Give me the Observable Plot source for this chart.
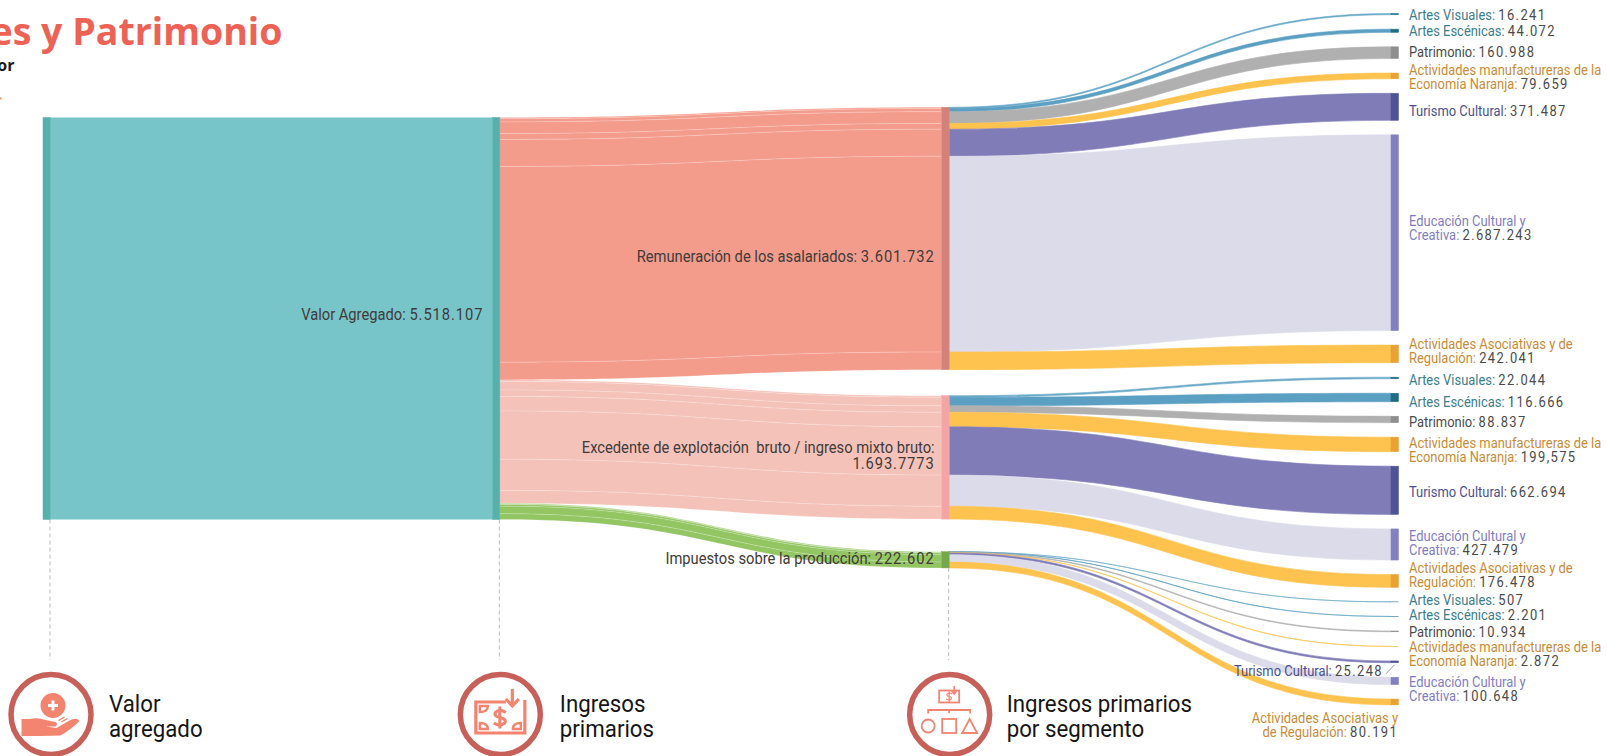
<!DOCTYPE html>
<html>
<head>
<meta charset="utf-8">
<script src="https://cdn.jsdelivr.net/npm/d3@7"></script>
<script src="https://cdn.jsdelivr.net/npm/@observablehq/plot@0.6"></script>
<style>
html,body{margin:0;padding:0;background:#fff;overflow:hidden}
svg text{white-space:pre}
</style>
</head>
<body>
<div id="chart"></div>
<script>
// ---------- data ----------
const stages = ["Valor\nagregado", "Ingresos\nprimarios", "Ingresos primarios\npor segmento"];
const totalLabel = "Valor Agregado: 5.518.107";
const incomeNames = ["Remuneración de los asalariados: 3.601.732",
  "Excedente de explotación  bruto / ingreso mixto bruto:\n1.693.7773",
  "Impuestos sobre la producción: 222.602"];
const segmentKeys = ["av", "ae", "pat", "man", "tur", "edu", "aso"];
const remuneracion = [16241, 44072, 160988, 79659, 371487, 2687243, 242041];
const excedente = [22044, 116666, 88837, 199575, 662694, 427479, 176478];
const impuestos = [507, 2201, 10934, 2872, 25248, 100648, 80191];
const segmentLabels = {
  av: "Artes Visuales",
  ae: "Artes Escénicas",
  pat: "Patrimonio",
  man: "Actividades manufactureras de la\nEconomía Naranja",
  tur: "Turismo Cultural",
  edu: "Educación Cultural y\nCreativa",
  aso: "Actividades Asociativas y de\nRegulación"
};
const asociativasLeftward = "Actividades Asociativas y\nde Regulación";
const remuneracionText = ["16.241", "44.072", "160.988", "79.659", "371.487", "2.687.243", "242.041"];
const excedenteText = ["22.044", "116.666", "88.837", "199,575", "662.694", "427.479", "176.478"];
const impuestosText = ["507", "2.201", "10.934", "2.872", "25.248", "100.648", "80.191"];

// ---------- styles ----------
const flowColor = {av:"#6aa9c8", ae:"#5b9fc3", pat:"#b0b0b0", man:"#fec24f", tur:"#807cb8", edu:"#dbdbea", aso:"#fec24f"};
const nodeColor = {av:"#1f6d84", ae:"#1f6d84", pat:"#8e8e8e", man:"#e9a233", tur:"#4e5297", edu:"#8280c0", aso:"#e9a233"};
const labelColor = {av:"#3a7d8c", ae:"#3a7d8c", pat:"#4a4a4a", man:"#c98b36", tur:"#4c5090", edu:"#7f7dc0", aso:"#c98b36"};
const incomeFlow = ["#f49c8c", "#f5c2b9", "#93c663"];
const incomeNode = ["#d2827a", "#f3a5a5", "#74a84e"];
const TEAL = "#78c5c9", TEAL_DARK = "#55b0ae", INK = "#403b39";
const RING = "#c8605a", ICON = "#f28470";
const FONT = "Roboto, sans-serif";

// ---------- layout (flow units: one pixel of height = U) ----------
const U = 13727;
const px = p => p * U;
const NODE_W = 7.5 / 449.33;            // node width in stage units
const stageOf = p => (p - 43) / 449.33; // pixel to stage units
const incomeRows = [remuneracion, excedente, impuestos];
const incomeTexts = [remuneracionText, excedenteText, impuestosText];
const incomeTotals = incomeRows.map(r => d3.sum(r));
const total = d3.sum(incomeTotals);
const topLeft = px(117.5);
const midTops = [px(107.3), px(395.7), px(551.7)];
const segTop = px(13.5), segGap = px(14.47);
const labelNudge = [1.2,.5,-1,1.1,3.9,-4.7,-2.6, 2.3,4.2,2.85,5.4,1.7,-1,-6.2, -1.9,-1.15,.3,8.1,9,7.7,23];

const flows = [], nodes = [], segLabels = [];
// valor agregado block
flows.push(
  {id:"va", x:NODE_W, y1:topLeft, y2:topLeft+total, fill:TEAL},
  {id:"va", x:1, y1:topLeft, y2:topLeft+total, fill:TEAL});
nodes.push({x1:0,x2:NODE_W,y1:topLeft,y2:topLeft+total,fill:TEAL_DARK},
           {x1:1,x2:1+NODE_W,y1:topLeft,y2:topLeft+total,fill:TEAL_DARK});

let left = topLeft, right = segTop, count = 0;
incomeRows.forEach((row, i) => {
  let mid = midTops[i];
  nodes.push({x1:2,x2:2+NODE_W,y1:mid,y2:mid+incomeTotals[i],fill:incomeNode[i]});
  row.forEach((v, j) => {
    const k = segmentKeys[j];
    const id1 = `a${i}${j}`, id2 = `b${i}${j}`;
    const end = i === 2 && (k === "tur" || k === "aso");
    const name = end && k === "aso" ? asociativasLeftward : segmentLabels[k];
    flows.push(
      {id:id1, x:1+NODE_W, y1:left, y2:left+v, fill:incomeFlow[i]},
      {id:id1, x:2, y1:mid, y2:mid+v, fill:incomeFlow[i]},
      {id:id2, x:2+NODE_W, y1:mid, y2:mid+v, fill:flowColor[k]},
      {id:id2, x:3, y1:right, y2:right+v, fill:flowColor[k]});
    nodes.push({x1:3,x2:3+NODE_W,y1:right,y2:right+v,fill:nodeColor[k]});
    segLabels.push({k, text:`${name}: ${incomeTexts[i][j]}`,
      y:right+v/2+px(labelNudge[count]), end});
    left += v; mid += v; right += v + segGap; count++;
  });
});
const secondStage = flows.filter(d => d.id[0] === "a");
const thirdStage = flows.filter(d => d.id[0] === "b");
const blockStage = flows.filter(d => d.id === "va");

const nodeLabels = [
  {x:1-9.5/449.33, y:px(314), text:totalLabel},
  {x:2-7.5/449.33, y:px(255.7), text:incomeNames[0]},
  {x:2-7.5/449.33, y:px(455), text:incomeNames[1]},
  {x:2-7.5/449.33, y:px(558.5), text:incomeNames[2]}
];
const stageMarks = [0,1,2].map(s => ({s:s+NODE_W, from:px(s===2?568:519.5), to:px(660), label:stages[s]}));
const iconRow = px(714), captionRow = px(716);
const captionDx = [58, 59.5, 57];

// ---------- icons: glyph shapes drawn at the stage position given by the x scale ----------
function icons(index, scales) {
  const g = d3.create("svg:g");
  const art = [
`<circle cx="2.5" cy="-8.5" r="12.5" fill="${ICON}"/>
 <path d="M2.5 -13.5V-3.5M-2.5 -8.5H7.5" stroke="#fff" stroke-width="3" fill="none"/>
 <path d="M-29 5H-21Q-12 3 -5 6L5 8Q8 10 5 12.5L-5 12.5L6 14L19 6.5Q26 3 29 7Q20 16 10 21.5L-10 22L-29 22Z" fill="${ICON}"/>
 <path d="M8 6.5L14 3M11 8L17 4.5" stroke="${ICON}" stroke-width="1.4" fill="none"/>`,
`<g fill="none" stroke="${ICON}" stroke-width="3.2">
 <path d="M6 -12H-24V19H25V-14"/>
 <path d="M-20 -8H-12Q-12 -2 -20 -2ZM-20 15H-12Q-12 9 -20 9ZM21 15H13Q13 9 21 9Z" stroke-width="2.4"/>
 <path d="M12.5 -25V-8M6 -15L12.5 -8L19 -15"/>
 <path d="M6 -1Q1 -5 -4 -1.5Q-7 2.5 0 4Q7 5.5 5 9.5Q0 13.5 -6 9.5M0 -7V15" transform="translate(0,-0.5)" stroke-width="3"/>
 </g>`,
`<g fill="none" stroke="${ICON}" stroke-width="1.8">
 <rect x="-10" y="-23.5" width="20" height="12"/>
 <path d="M3 -20Q0 -22 -2 -20Q-3 -18 0 -17.5Q3 -17 2 -15Q0 -13 -3 -15M0 -23V-12" stroke-width="1.2"/>
 <path d="M5 -28V-20M2.5 -23L5 -20L7.5 -23" stroke-width="1.5"/>
 <path d="M-21 -.5V-4H21V-.5M0 -4V-1"/>
 <circle cx="-21" cy="12" r="6.5"/>
 <rect x="-7" y="5" width="14" height="14"/>
 <path d="M20.5 5L28 19H13Z"/>
 </g>`];
  stageMarks.forEach((d, i) => {
    g.append("g")
      .attr("transform", `translate(${scales.x(d.s)},${scales.y(iconRow)})`)
      .html(art[i]);
  });
  return g.node();
}

// ---------- chart ----------
const tag = name => () => name;
const chart = Plot.plot({
  width: 1607, height: 756, margin: 0,
  style: {fontFamily: FONT, background: "#fff"},
  x: {axis: null, domain: [0, 3], range: [43, 1391]},
  y: {axis: null, domain: [0, px(756)], range: [0, 756]},
  color: {type: "identity"},
  marks: [
    Plot.ruleX(stageMarks, {x:"s", y1:"from", y2:"to", dx:-1, stroke:"#bdbdbd", strokeWidth:1, strokeDasharray:"4,3"}),
    Plot.area(blockStage, {x1:"x", y1:"y1", y2:"y2", z:"id", fill:"fill"}),
    Plot.area(secondStage, {x1:"x", y1:"y1", y2:"y2", z:"id", fill:"fill", curve:"bump-x",
      stroke:"#fff", strokeOpacity:.22, strokeWidth:.7}),
    Plot.area(thirdStage, {x1:"x", y1:"y1", y2:"y2", z:"id", fill:"fill", curve:"bump-x",
      stroke:"fill", strokeWidth:.6}),
    Plot.rect(nodes, {x1:"x1", x2:"x2", y1:"y1", y2:"y2", fill:"fill", stroke:"fill", strokeWidth:.5}),
    Plot.link([{x1:stageOf(1385.5), y1:px(673.3), x2:stageOf(1394), y2:px(664.3)}],
      {x1:"x1", y1:"y1", x2:"x2", y2:"y2", stroke:"#9a9a9a", strokeWidth:1}),
    Plot.text(nodeLabels, {x:"x", y:"y", text:"text", textAnchor:"end", fontSize:16, lineHeight:1.04,
      fill:INK, ariaLabel:tag("node")}),
    Plot.text(segLabels.filter(d => !d.end), {x:3+17.5/449.33, y:"y", text:"text", textAnchor:"start",
      fontSize:14, lineHeight:1, fill:d => labelColor[d.k], ariaLabel:tag("segment")}),
    Plot.text(segLabels.filter(d => d.end), {x:d => d.k==="tur" ? stageOf(1382.5) : stageOf(1397.6), y:"y", text:"text", textAnchor:"end",
      fontSize:14, lineHeight:1, fill:d => labelColor[d.k], ariaLabel:tag("segment")}),
    Plot.dot(stageMarks, {x:"s", y:iconRow, r:40, stroke:RING, strokeWidth:5.5, fill:"none"}),
    icons,
    Plot.text(stageMarks, {x:(d, i) => d.s + captionDx[i] / 449.33, y:captionRow, text:"label", textAnchor:"start",
      fontSize:23.5, lineHeight:1.04, fill:"#151515", ariaLabel:tag("caption")}),
    Plot.text(["es y Patrimonio"], {x:stageOf(282), y:px(32), textAnchor:"end", fontSize:37.5, fontWeight:700,
      fontFamily:"'Open Sans', sans-serif", fill:"#ee6256"}),
    Plot.text(["or"], {x:stageOf(14), y:px(65.5), textAnchor:"end", fontSize:16, fontWeight:700,
      fontFamily:"'Open Sans', sans-serif", fill:"#1a1a1a"}),
    Plot.ruleY([px(98)], {x1:stageOf(-1), x2:stageOf(1.5), stroke:"#f08a5a", strokeWidth:2})
  ]
});

// the figure after a label's colon is set wider and darker than the name
function splitValue(t, fill, spacing) {
  const host = t.lastElementChild || t;
  const raw = host.textContent;
  const cut = raw.lastIndexOf(": ") + 2;
  host.textContent = raw.slice(0, Math.max(cut, 0) && cut);
  const v = document.createElementNS("http://www.w3.org/2000/svg", "tspan");
  v.setAttribute("fill", fill);
  v.setAttribute("letter-spacing", spacing);
  v.textContent = raw.slice(cut);
  host.appendChild(v);
}
chart.querySelectorAll('text[aria-label="segment"]').forEach(t => splitValue(t, "#4a4a4a", 1.5));
chart.querySelectorAll('text[aria-label="node"]').forEach(t => splitValue(t, INK, 1));
// the source type is a condensed cut: narrow the installed Roboto to the same set width
const squeeze = {segment: .924, node: .92, caption: .948};
Object.entries(squeeze).forEach(([name, k]) => {
  chart.querySelectorAll(`text[aria-label="${name}"]`).forEach(t => {
    t.setAttribute("transform", (t.getAttribute("transform") || "") + ` scale(${k},1)`);
  });
});
document.getElementById("chart").appendChild(chart);
</script>
</body>
</html>
